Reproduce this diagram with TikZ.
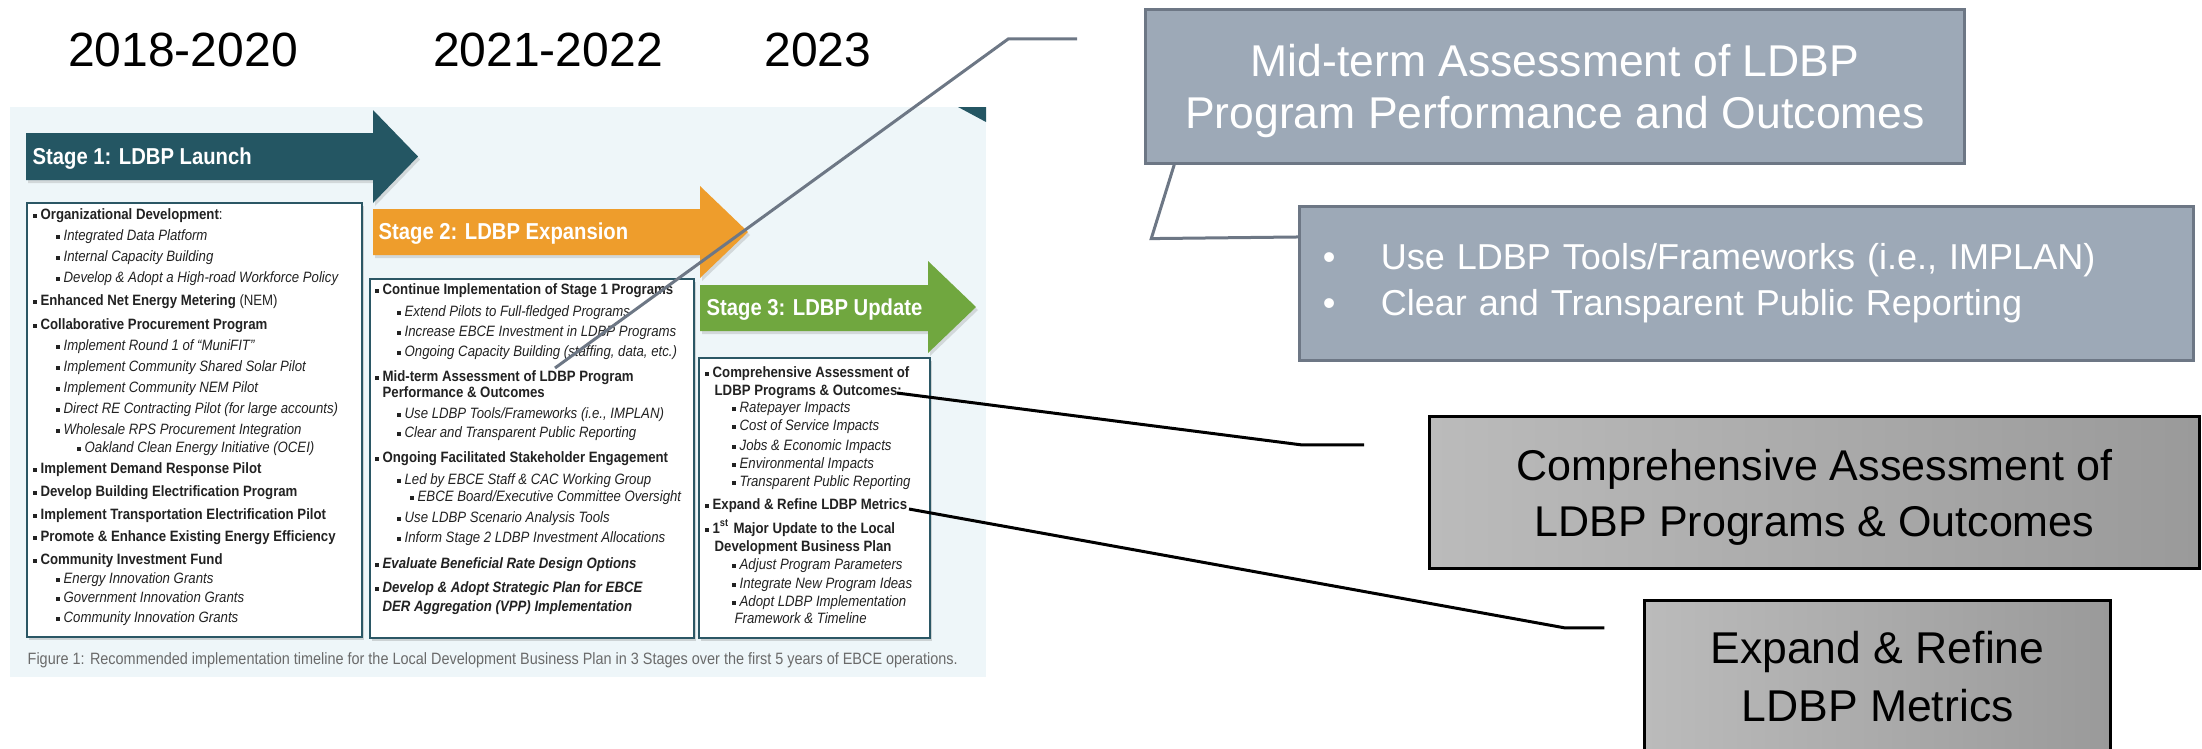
\documentclass[tikz,border=0pt]{standalone}
\usepackage{fontspec}
\setmainfont{Liberation Sans}
\newfontfamily\panelfont[FakeStretch=0.88]{Liberation Sans}
\usetikzlibrary{shadows,positioning}

\newdimen\px \px=0.28453pt
\definecolor{panelbg}{HTML}{EEF6F9}
\definecolor{tealA}{HTML}{245663}
\definecolor{orangeB}{HTML}{EE9D2C}
\definecolor{greenC}{HTML}{70A73F}
\definecolor{boxteal}{HTML}{2B5765}
\definecolor{ink}{HTML}{222222}
\definecolor{capgray}{HTML}{6A6A6A}
\definecolor{slate}{HTML}{9DA9B7}
\definecolor{slateline}{HTML}{6D7785}
\definecolor{greyL}{HTML}{BBBBBB}
\definecolor{greyR}{HTML}{9A9A9A}

\newcommand\sq{\rule[1.8\px]{4\px}{4\px}\hspace{4\px}}
\newcommand\ind[1]{\hspace*{#1\px}}

\begin{document}
\begin{tikzpicture}[x=0.01cm, y=-0.01cm,
    yearlabel/.style={anchor=base, inner sep=0, font=\fontsize{48\px}{50\px}\selectfont},
    arrowshade/.style={drop shadow={shadow xshift=2\px, shadow yshift=-3\px, opacity=0.25}},
    stagetext/.style={anchor=base west, inner sep=0, text=white,
      font=\panelfont\bfseries\fontsize{23\px}{26\px}\selectfont},
    itembox/.style={draw=boxteal, line width=2\px, fill=white, inner sep=0,
      drop shadow={shadow xshift=2\px, shadow yshift=-3\px, opacity=0.3}},
    itemtext/.style={anchor=north west, inner sep=0, align=left, text=ink},
    slatebox/.style={draw=slateline, line width=3\px, fill=slate, text=white, inner sep=0,
      align=center, font=\fontsize{44.5\px}{52\px}\selectfont},
    greybox/.style={draw=black, line width=3\px, left color=greyL, right color=greyR,
      inner sep=0, align=center, text depth=0pt},
    slatelink/.style={draw=slateline, line width=3\px},
    blacklink/.style={draw=black, line width=3\px}]
  \useasboundingbox (0,0) rectangle (2202,748);

  % years
  \node[yearlabel] (yrA) at (183,66) {2018-2020};
  \node[yearlabel] (yrB) at (548,66) {2021-2022};
  \node[yearlabel] (yrC) at (818,66) {2023};

  % report figure
  \fill[panelbg] (10,107) rectangle (986,677);
  \fill[tealA] (958,107) -- (986,107) -- (986,122) -- cycle;

  \fill[tealA, arrowshade] (26,133) -- (373,133) -- (373,110) -- (418,156.5)
    -- (373,203) -- (373,180) -- (26,180) -- cycle;
  \fill[orangeB, arrowshade] (373,209) -- (700,209) -- (700,186) -- (748,232)
    -- (700,278) -- (700,255) -- (373,255) -- cycle;
  \fill[greenC, arrowshade] (700,285) -- (928,285) -- (928,261) -- (976,307)
    -- (928,353) -- (928,331) -- (700,331) -- cycle;
  \node[stagetext] (stage1) at (32,164) {Stage 1: LDBP Launch};
  \node[stagetext] (stage2) at (378,239) {Stage 2: LDBP Expansion};
  \node[stagetext] (stage3) at (706,315) {Stage 3: LDBP Update};

  \node[itembox, minimum width=335\px, minimum height=434\px] (launchBox) at (194.5,420) {};
  \node[itembox, minimum width=324\px, minimum height=359\px] (expandBox) at (532,458.5) {};
  \node[itembox, minimum width=231\px, minimum height=280\px] (updateBox) at (814.5,498) {};

  \node[itemtext, font=\panelfont\fontsize{15\px}{21\px}\selectfont]
    (launchItems) at ([shift={(6\px,-6\px)}]launchBox.north west) {%
    \sq\textbf{Organizational Development}:\\
    \ind{23}\sq\textit{Integrated Data Platform}\\
    \ind{23}\sq\textit{Internal Capacity Building}\\
    \ind{23}\sq\textit{Develop \& Adopt a High-road Workforce Policy}\\[2\px]
    \sq\textbf{Enhanced Net Energy Metering} (NEM)\\[3\px]
    \sq\textbf{Collaborative Procurement Program}\\
    \ind{23}\sq\textit{Implement Round 1 of “MuniFIT”}\\
    \ind{23}\sq\textit{Implement Community Shared Solar Pilot}\\
    \ind{23}\sq\textit{Implement Community NEM Pilot}\\
    \ind{23}\sq\textit{Direct RE Contracting Pilot (for large accounts)}\\
    \ind{23}\sq\textit{Wholesale RPS Procurement Integration}\\[-3\px]
    \ind{44}\sq\textit{Oakland Clean Energy Initiative (OCEI)}\\
    \sq\textbf{Implement Demand Response Pilot}\\[2\px]
    \sq\textbf{Develop Building Electrification Program}\\[2\px]
    \sq\textbf{Implement Transportation Electrification Pilot}\\[1\px]
    \sq\textbf{Promote \& Enhance Existing Energy Efficiency}\\[2\px]
    \sq\textbf{Community Investment Fund}\\[-2\px]
    \ind{23}\sq\textit{Energy Innovation Grants}\\[-2\px]
    \ind{23}\sq\textit{Government Innovation Grants}\\[-1\px]
    \ind{23}\sq\textit{Community Innovation Grants}};

  \node[itemtext, font=\panelfont\fontsize{15\px}{20\px}\selectfont]
    (expandItems) at ([shift={(5\px,-5\px)}]expandBox.north west) {%
    \sq\textbf{Continue Implementation of Stage 1 Programs}\\[2\px]
    \ind{22}\sq\textit{Extend Pilots to Full-fledged Programs}\\
    \ind{22}\sq\textit{Increase EBCE Investment in LDBP Programs}\\
    \ind{22}\sq\textit{Ongoing Capacity Building (staffing, data, etc.)}\\[5\px]
    \sq\textbf{Mid-term Assessment of LDBP Program}\\[-4\px]
    \ind{8}\textbf{Performance \& Outcomes}\\[1\px]
    \ind{22}\sq\textit{Use LDBP Tools/Frameworks (i.e., IMPLAN)}\\[-1\px]
    \ind{22}\sq\textit{Clear and Transparent Public Reporting}\\[5\px]
    \sq\textbf{Ongoing Facilitated Stakeholder Engagement}\\[2\px]
    \ind{22}\sq\textit{Led by EBCE Staff \& CAC Working Group}\\[-3\px]
    \ind{35}\sq\textit{EBCE Board/Executive Committee Oversight}\\[1\px]
    \ind{22}\sq\textit{Use LDBP Scenario Analysis Tools}\\
    \ind{22}\sq\textit{Inform Stage 2 LDBP Investment Allocations}\\[6\px]
    \sq\textbf{\textit{Evaluate Beneficial Rate Design Options}}\\[4\px]
    \sq\textbf{\textit{Develop \& Adopt Strategic Plan for EBCE}}\\[-1\px]
    \ind{8}\textbf{\textit{DER Aggregation (VPP) Implementation}}};

  \node[itemtext, font=\panelfont\fontsize{15\px}{18\px}\selectfont]
    (updateItems) at ([shift={(6\px,-9\px)}]updateBox.north west) {%
    \sq\textbf{Comprehensive Assessment of}\\
    \ind{10}\textbf{LDBP Programs \& Outcomes:}\\[-1\px]
    \ind{27}\sq\textit{Ratepayer Impacts}\\
    \ind{27}\sq\textit{Cost of Service Impacts}\\[2\px]
    \ind{27}\sq\textit{Jobs \& Economic Impacts}\\
    \ind{27}\sq\textit{Environmental Impacts}\\
    \ind{27}\sq\textit{Transparent Public Reporting}\\[5\px]
    \sq\textbf{Expand \& Refine LDBP Metrics}\\[6\px]
    \sq\textbf{1\textsuperscript{st} Major Update to the Local}\\
    \ind{10}\textbf{Development Business Plan}\\
    \ind{27}\sq\textit{Adjust Program Parameters}\\[1\px]
    \ind{27}\sq\textit{Integrate New Program Ideas}\\
    \ind{27}\sq\textit{Adopt LDBP Implementation}\\[-1\px]
    \ind{30}\textit{Framework \& Timeline}};

  \node[anchor=base west, inner sep=0, text=capgray,
    font=\panelfont\fontsize{16.4\px}{18\px}\selectfont] (caption) at (27,664)
    {Figure 1: Recommended implementation timeline for the Local Development Business Plan in 3 Stages over the first 5 years of EBCE operations.};

  % call-out boxes
  \node[slatebox, minimum width=818\px, minimum height=153\px, text depth=0pt] (midA) at (1555,86.5)
    {Mid-term Assessment of LDBP\\Program Performance and Outcomes};
  \node[slatebox, minimum width=893\px, minimum height=153\px, text width=847\px, align=left,
    font=\fontsize{36\px}{46\px}\selectfont] (useB) at (1746.5,283.5)
    {\makebox[58\px][l]{•}Use LDBP Tools/Frameworks (i.e., IMPLAN)\\
     \makebox[58\px][l]{•}Clear and Transparent Public Reporting};
  \node[greybox, minimum width=769\px, minimum height=151\px,
    font=\fontsize{43\px}{56\px}\selectfont] (cmpC) at (1814.5,492.5)
    {Comprehensive Assessment of\\LDBP Programs \& Outcomes};
  \node[greybox, minimum width=465\px, minimum height=151\px,
    font=\fontsize{44.5\px}{58\px}\selectfont] (mtrD) at (1877.5,676.5)
    {Expand \& Refine\\LDBP Metrics};

  % leader lines
  \coordinate (midS) at (555,368);
  \coordinate (midE) at ([shift={(-67\px,47.5\px)}]midA.west);
  \draw[slatelink] (midS) -- ([xshift=-69\px]midE) -- (midE);
  \draw[slatelink] ([xshift=30\px]midA.south west) -- ++(-23\px,-74\px) -- ([yshift=46.5\px]useB.west);

  \coordinate (cmpS) at (897,393);
  \coordinate (cmpE) at ([shift={(-64\px,47.5\px)}]cmpC.west);
  \draw[blacklink] (cmpS) -- ([xshift=-62\px]cmpE) -- (cmpE);

  \coordinate (mtrS) at (909,509);
  \coordinate (mtrE) at ([shift={(-39\px,48.5\px)}]mtrD.west);
  \draw[blacklink] (mtrS) -- ([xshift=-39\px]mtrE) -- (mtrE);
\end{tikzpicture}
\end{document}
